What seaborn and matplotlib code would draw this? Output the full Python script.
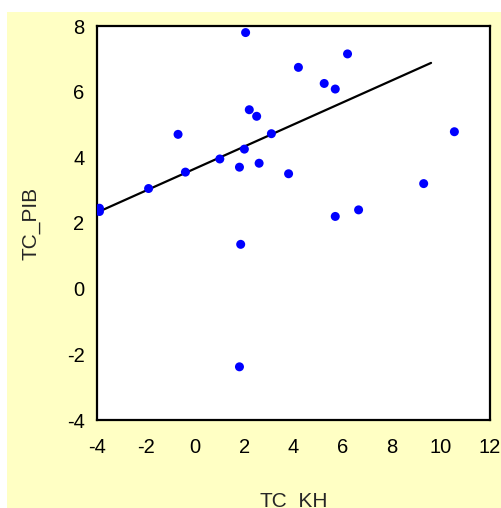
import numpy as np
import pandas as pd
import matplotlib
matplotlib.use("Agg")
import matplotlib.pyplot as plt
import seaborn as sns

sns.set_style("white")
plt.rcParams['font.family'] = ['Liberation Sans', 'DejaVu Sans']
plt.rcParams['axes.unicode_minus'] = False

# values
tc_kh = [-3.9, -3.9, -1.9, -0.7, -0.4, 1.0, 1.8, 2.05, 2.0, 2.2, 2.5, 2.6,
         3.1, 3.8, 4.2, 6.2, 5.25, 5.7, 10.55, 9.3, 5.7, 6.65, 1.85, 1.8]
tc_pib = [2.45, 2.35, 3.05, 4.7, 3.55, 3.95, 3.7, 7.8, 4.25, 5.45, 5.25, 3.82,
          4.72, 3.5, 6.74, 7.15, 6.25, 6.08, 4.78, 3.2, 2.2, 2.4, 1.35, -2.38]

# fitted line shown in the reference
fit_intercept = 3.66
fit_slope = 0.335
fit_x = [-3.9, 9.6]

df = pd.DataFrame({"TC_KH": tc_kh, "TC_PIB": tc_pib})
line = pd.DataFrame({"TC_KH": fit_x})
line["TC_PIB"] = fit_intercept + fit_slope * line["TC_KH"]

fig = plt.figure(figsize=(5.01, 5.08), dpi=100, facecolor="white")
fig.patches.append(plt.Rectangle((7 / 501, 0), 1, 1 - 12 / 508, transform=fig.transFigure,
                                 facecolor="#FFFFC4", edgecolor="none", zorder=-1))
ax = fig.add_axes([97 / 501, 1 - 420 / 508, 393 / 501, 394 / 508])
ax.set_facecolor("white")

sns.lineplot(data=line, x="TC_KH", y="TC_PIB", color="black", lw=1.6, ax=ax, zorder=2)
sns.scatterplot(data=df, x="TC_KH", y="TC_PIB", color="#0000FF", s=42,
                edgecolor="none", ax=ax, zorder=3)

ax.set_xlim(-4, 12)
ax.set_ylim(-4, 8)
ax.set_xticks(range(-4, 13, 2))
ax.set_yticks(range(-4, 9, 2))
ax.tick_params(direction="out", length=7, width=1.2, color="black",
               labelsize=14.5, labelcolor="black")
ax.tick_params(axis="x", pad=6)
ax.tick_params(axis="y", pad=2)
for sp in ax.spines.values():
    sp.set_color("black")
    sp.set_linewidth(1.6)

ax.set_xlabel("TC_KH", fontsize=15)
ax.set_ylabel("TC_PIB", fontsize=15)
ax.xaxis.set_label_coords(0.5, -0.182)
ax.yaxis.set_label_coords(-0.145, 0.5)

fig.savefig("out.png", dpi=100, facecolor=fig.get_facecolor())
